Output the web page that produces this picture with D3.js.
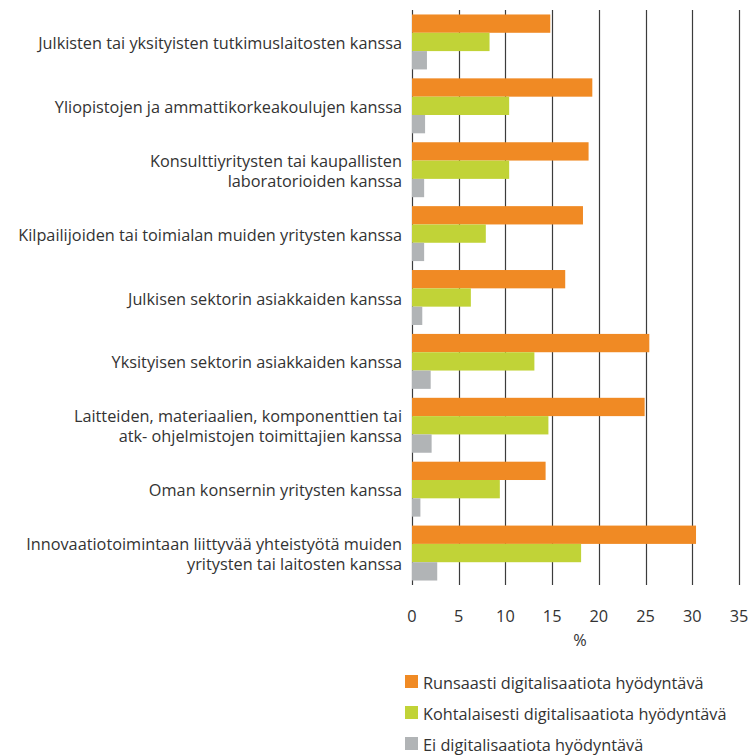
<!DOCTYPE html>
<html>
<head>
<meta charset="utf-8">
<script src="https://cdn.jsdelivr.net/npm/d3@7"></script>
<style>
  html, body { margin: 0; padding: 0; background: #fff; }
  svg text { font-family: "Open Sans", "Noto Sans", sans-serif; fill: #333; }
</style>
</head>
<body>
<svg id="chart" width="754" height="755"></svg>
<script>
// Partner categories (multi-line labels split on "|")
const categories = [
  "Julkisten tai yksityisten tutkimuslaitosten kanssa",
  "Yliopistojen ja ammattikorkeakoulujen kanssa",
  "Konsulttiyritysten tai kaupallisten|laboratorioiden kanssa",
  "Kilpailijoiden tai toimialan muiden yritysten kanssa",
  "Julkisen sektorin asiakkaiden kanssa",
  "Yksityisen sektorin asiakkaiden kanssa",
  "Laitteiden, materiaalien, komponenttien tai|atk- ohjelmistojen toimittajien kanssa",
  "Oman konsernin yritysten kanssa",
  "Innovaatiotoimintaan liittyvää yhteistyötä muiden|yritysten tai laitosten kanssa"
];

const seriesNames = [
  "Runsaasti digitalisaatiota hyödyntävä",
  "Kohtalaisesti digitalisaatiota hyödyntävä",
  "Ei digitalisaatiota hyödyntävä"
];

const runsaasti     = [14.8, 19.3, 18.9, 18.3, 16.4, 25.4, 24.9, 14.3, 30.4];
const kohtalaisesti = [8.3, 10.4, 10.4, 7.9, 6.3, 13.1, 14.6, 9.4, 18.1];
const ei            = [1.6, 1.4, 1.3, 1.3, 1.1, 2.0, 2.1, 0.9, 2.7];

const xTicks = [0, 5, 10, 15, 20, 25, 30, 35];
const xMax = 35;
const colors = ["#F08A24", "#C1D337", "#B1B4B6"];

const values = [runsaasti, kohtalaisesti, ei];

const svg = d3.select("#chart");
const plot = { left: 412, right: 739, top: 10, bottom: 585 };
const fs = 16.3;

const x = d3.scaleLinear().domain([0, xMax]).range([plot.left, plot.right]);
const y = d3.scaleBand().domain(d3.range(categories.length))
  .range([plot.top, plot.bottom]).paddingInner(0.14).paddingOuter(0.07);
const ySub = d3.scaleBand().domain(d3.range(seriesNames.length))
  .range([0, y.bandwidth()]);

// Vertical gridlines
svg.append("g").selectAll("line").data(xTicks).join("line")
  .attr("x1", d => Math.round(x(d)) + 0.5).attr("x2", d => Math.round(x(d)) + 0.5)
  .attr("y1", plot.top).attr("y2", plot.bottom)
  .attr("stroke", "#3c3c3c").attr("stroke-width", 1.2);

// Bars
const groups = svg.append("g").selectAll("g").data(categories).join("g")
  .attr("transform", (d, i) => `translate(0,${y(i)})`);
groups.selectAll("rect")
  .data((d, i) => values.map((s, k) => ({ k, v: s[i] })))
  .join("rect")
  .attr("x", x(0))
  .attr("y", d => ySub(d.k))
  .attr("width", d => x(d.v) - x(0))
  .attr("height", ySub.bandwidth())
  .attr("fill", d => colors[d.k]);

// Category labels: one text element per line
const lh = 20;
const labelLines = categories.flatMap((d, i) => {
  const lines = d.split("|");
  const cy = y(i) + y.bandwidth() / 2;
  return lines.map((ln, j) => ({ ln, yy: cy + 7 + (j - (lines.length - 1) / 2) * lh }));
});
svg.append("g").selectAll("text").data(labelLines).join("text")
  .attr("text-anchor", "end")
  .attr("font-size", fs)
  .attr("x", 402)
  .attr("y", d => d.yy)
  .text(d => d.ln);

// X axis tick labels
svg.append("g").selectAll("text").data(xTicks).join("text")
  .attr("x", d => x(d)).attr("y", 622)
  .attr("text-anchor", "middle").attr("font-size", fs)
  .text(d => d);

svg.append("text").attr("x", 580).attr("y", 646)
  .attr("text-anchor", "middle").attr("font-size", fs).text("%");

// Legend
const legend = svg.append("g").selectAll("g").data(seriesNames).join("g")
  .attr("transform", (d, i) => `translate(405,${675 + i * 31})`);
legend.append("rect").attr("width", 13).attr("height", 13)
  .attr("fill", (d, i) => colors[i]);
legend.append("text").attr("x", 18).attr("y", 14).attr("font-size", fs)
  .text(d => d);
</script>
</body>
</html>
